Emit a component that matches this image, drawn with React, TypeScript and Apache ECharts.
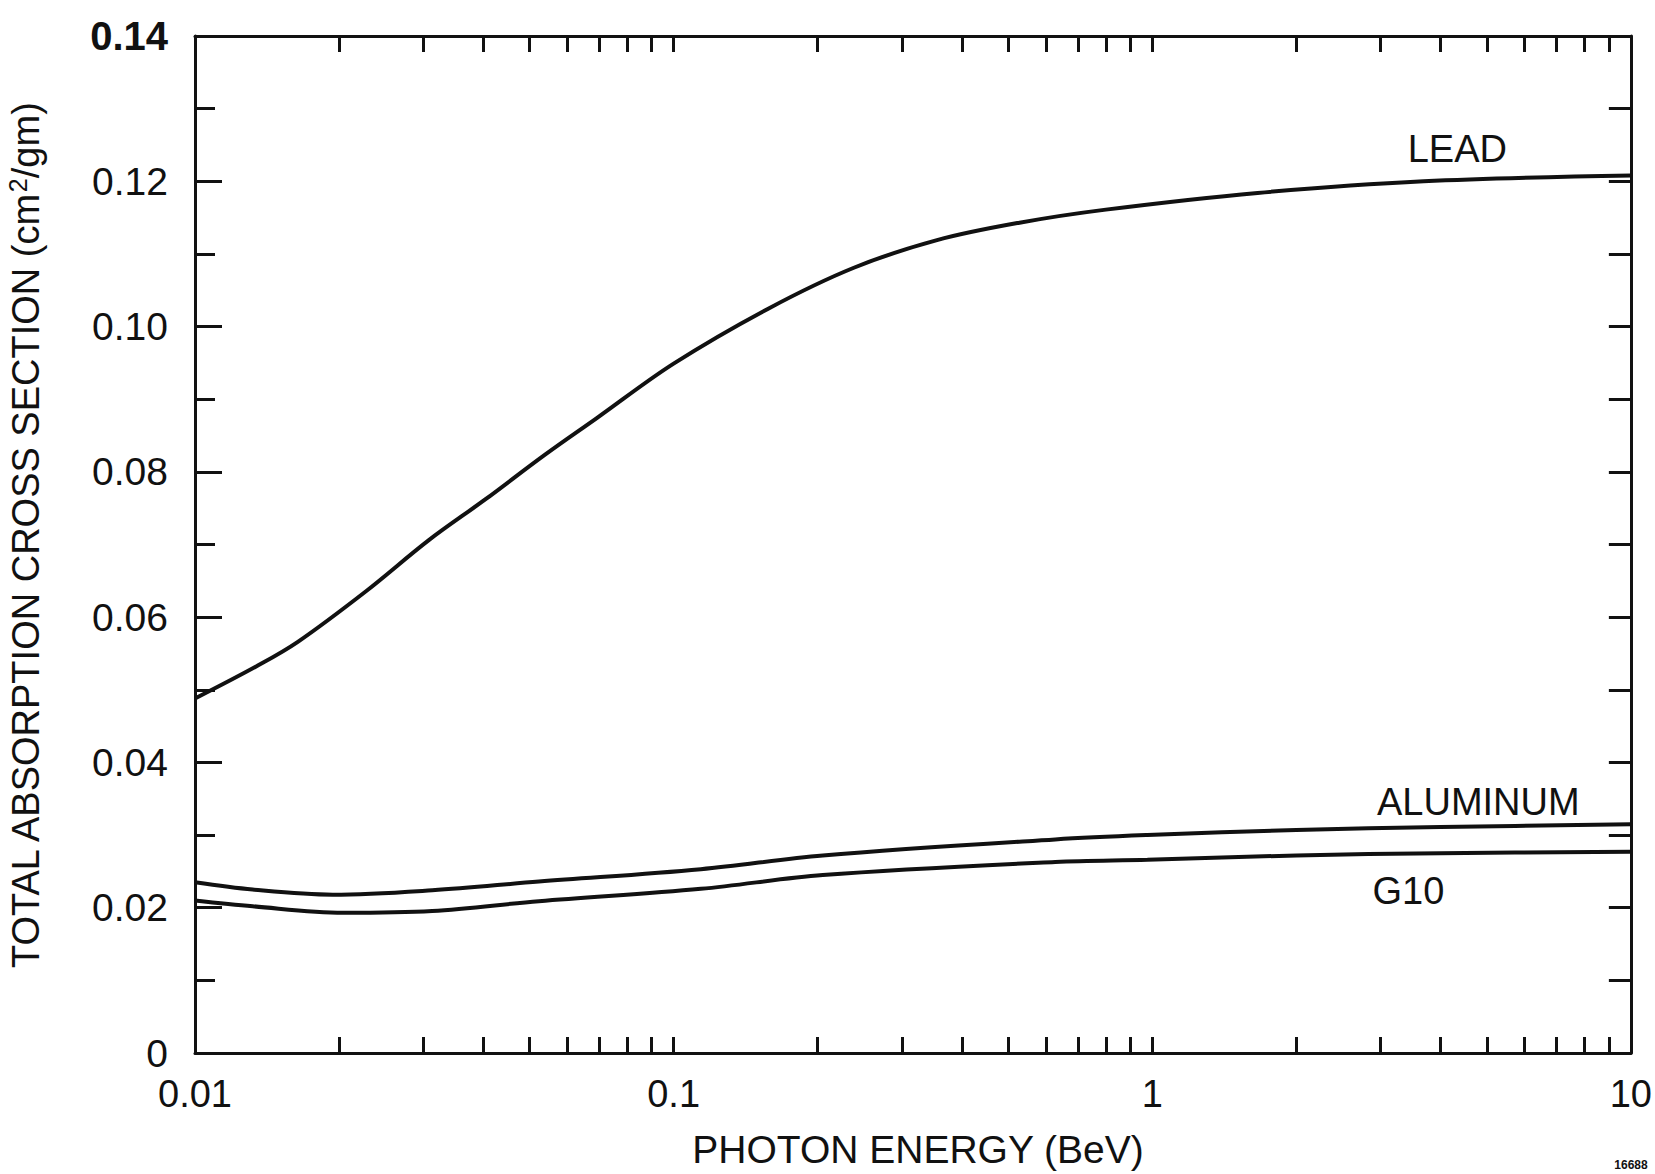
import React, { useEffect, useRef } from "react";
import * as echarts from "echarts";

// Total absorption cross section (cm^2/gm) against photon energy (BeV)
const leadEnergy = [0.01, 0.0135, 0.0164, 0.0228, 0.0308, 0.0404, 0.0537, 0.0691, 0.1, 0.158, 0.238, 0.355, 0.528, 0.8, 1.66, 3.69, 10];
const leadSigma = [0.0488, 0.0533, 0.0566, 0.0636, 0.0706, 0.0762, 0.0823, 0.0874, 0.0949, 0.1025, 0.1081, 0.1119, 0.1143, 0.1161, 0.1184, 0.12, 0.1208];

const aluminumEnergy = [0.01, 0.0132, 0.0194, 0.0313, 0.0523, 0.114, 0.205, 0.627, 0.977, 2.0, 4.0, 10];
const aluminumSigma = [0.0235, 0.0225, 0.0218, 0.0224, 0.0236, 0.0253, 0.0272, 0.0294, 0.03, 0.0307, 0.0311, 0.0315];

const g10Energy = [0.01, 0.0132, 0.0204, 0.0313, 0.0523, 0.114, 0.205, 0.627, 0.977, 2.0, 4.0, 10];
const g10Sigma = [0.021, 0.0202, 0.0193, 0.01955, 0.0209, 0.0226, 0.0245, 0.0263, 0.0266, 0.0272, 0.0275, 0.0277];

// Axis ticks and labels
const xDecadeLabels = ["0.01", "0.1", "1", "10"];
const xDecades = [0.01, 0.1, 1];
const xMultipliers = [1, 2, 3, 4, 5, 6, 7, 8, 9];
const yMin = 0;
const yMax = 0.14;
const yLabelStep = 0.02;
const yTickStep = 0.01;

const toPairs = (xs: number[], ys: number[]) => xs.map((x, i) => [x, ys[i]]);

export default function App() {
  const ref = useRef<HTMLDivElement>(null);

  useEffect(() => {
    const el = ref.current;
    if (!el) return;
    const chart = echarts.init(el, null, { renderer: "svg" });

    const font = "'Liberation Sans', Arial, sans-serif";
    const ink = "#111";
    const frame = { color: ink, width: 3 };

    // log10 positions of the 1..9 subdivisions in each decade, plus the last decade
    const xTickLogs = xDecades
      .flatMap((d) => xMultipliers.map((m) => Math.log10(m * d)))
      .concat([Math.log10(10)]);

    const logTickAxis = (position: "top" | "bottom", showLine: boolean) => ({
      type: "value",
      position,
      min: -2,
      max: 1,
      axisLine: { show: showLine, onZero: false, lineStyle: frame },
      axisTick: {
        show: true,
        inside: true,
        length: 16,
        customValues: xTickLogs,
        lineStyle: frame,
      },
      axisLabel: { show: false },
      splitLine: { show: false },
    });

    const curve = (name: string, xs: number[], ys: number[], labelAt: number[]) => ({
      name,
      type: "line",
      xAxisIndex: 0,
      yAxisIndex: 0,
      data: toPairs(xs, ys),
      smooth: 0.35,
      showSymbol: false,
      symbol: "none",
      lineStyle: { color: ink, width: 4 },
      markPoint: {
        silent: true,
        symbol: "rect",
        symbolSize: 0,
        data: [{ coord: labelAt, name }],
        label: {
          show: true,
          position: "inside",
          formatter: "{b}",
          color: ink,
          fontSize: 38,
          fontFamily: font,
        },
      },
    });

    chart.setOption({
      animation: false,
      backgroundColor: "#fff",
      grid: { left: 195, top: 36, width: 1443, height: 1017, containLabel: false },
      xAxis: [
        {
          type: "log",
          logBase: 10,
          min: 0.01,
          max: 10,
          position: "bottom",
          axisLine: { show: true, onZero: false, lineStyle: frame },
          axisTick: { show: false },
          minorTick: { show: false },
          splitLine: { show: false },
          axisLabel: {
            margin: 22,
            color: ink,
            fontSize: 38,
            fontFamily: font,
            formatter: (v: number) => xDecadeLabels[Math.round(Math.log10(v)) + 2] ?? "",
          },
        },
        logTickAxis("bottom", false),
        logTickAxis("top", true),
      ],
      yAxis: [
        {
          type: "value",
          position: "left",
          min: yMin,
          max: yMax,
          interval: yLabelStep,
          axisLine: { show: true, onZero: false, lineStyle: frame },
          axisTick: { show: true, inside: true, length: 27, lineStyle: frame },
          minorTick: { show: true, splitNumber: 2, length: 20, lineStyle: frame },
          splitLine: { show: false },
          axisLabel: {
            margin: 27,
            color: ink,
            fontSize: 39,
            fontFamily: font,
            formatter: (v: number) =>
              v === 0 ? "0" : Math.abs(v - yMax) < 1e-9 ? `{top|${v.toFixed(2)}}` : v.toFixed(2),
            rich: {
              top: { fontSize: 40, fontWeight: "bold", fontFamily: font, color: ink },
            },
          },
        },
        {
          type: "value",
          position: "right",
          min: yMin,
          max: yMax,
          interval: yTickStep,
          axisLine: { show: true, onZero: false, lineStyle: frame },
          axisTick: { show: true, inside: true, length: 22, lineStyle: frame },
          axisLabel: { show: false },
          splitLine: { show: false },
        },
      ],
      series: [
        curve("LEAD", leadEnergy, leadSigma, [4.34, 0.1244]),
        curve("ALUMINUM", aluminumEnergy, aluminumSigma, [4.8, 0.0346]),
        curve("G10", g10Energy, g10Sigma, [3.43, 0.0223]),
      ],
      graphic: [
        {
          type: "text",
          x: 26,
          y: 536,
          rotation: Math.PI / 2,
          style: {
            text: "TOTAL ABSORPTION CROSS SECTION (cm{sup|2}/gm)",
            fontSize: 38,
            fontFamily: font,
            fill: ink,
            align: "center",
            verticalAlign: "middle",
            lineHeight: 42,
            rich: {
              sup: { fontSize: 25, fontFamily: font, fill: ink, verticalAlign: "top", lineHeight: 42 },
            },
          },
        },
        {
          type: "text",
          x: 918,
          y: 1149,
          style: {
            text: "PHOTON ENERGY (BeV)",
            fontSize: 39,
            fontFamily: font,
            fill: ink,
            align: "center",
            verticalAlign: "middle",
          },
        },
        {
          type: "text",
          x: 1631,
          y: 1171,
          style: {
            text: "16688",
            fontSize: 12,
            fontWeight: "bold",
            fontFamily: font,
            fill: ink,
            align: "center",
            verticalAlign: "bottom",
          },
        },
      ],
    });

    return () => chart.dispose();
  }, []);

  return (
    <div
      ref={ref}
      style={{ position: "absolute", left: 0, top: 0, width: 1655, height: 1174, background: "#fff" }}
    />
  );
}
